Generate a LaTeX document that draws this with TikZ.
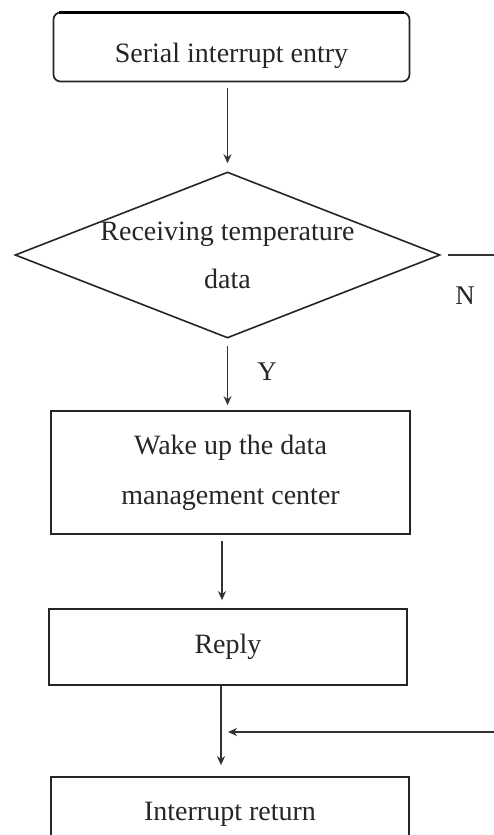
\documentclass[tikz,border=0pt]{standalone}
\usepackage{fontspec}
\setmainfont{Liberation Serif}
\usetikzlibrary{shapes.geometric,arrows.meta,calc}
\begin{document}
\begin{tikzpicture}[x=1pt,y=-1pt,
  box/.style={draw=black!85,line width=1.7pt,rectangle,inner sep=0pt,font=\fontsize{28}{50}\selectfont,align=center,text=black!85},
  decbox/.style={draw=black!85,line width=1.6pt,diamond,inner sep=0pt,minimum width=425pt,minimum height=166pt},
  txt/.style={font=\fontsize{28}{48}\selectfont,align=center,inner sep=0pt,text=black!85},
  lbl/.style={font=\fontsize{27}{30}\selectfont,inner sep=0pt,text=black!85},
  conn/.style={draw=black!80,line width=1.5pt},
  arr/.style={conn,-{Stealth[length=9pt,width=8pt]}}]
\clip (0,0) rectangle (494,835);
\fill[white] (0,0) rectangle (494,835);
% nodes
\node[box,rounded corners=7pt,minimum width=356pt,minimum height=69pt,text height=30pt,text depth=0pt] (top) at (231.5,47) {Serial interrupt entry};
\draw[line width=3pt,black] ([xshift=6pt,yshift=-0.5pt]top.north west) -- ([xshift=-6pt,yshift=-0.5pt]top.north east);
\node[decbox] (dec) at (227.5,255) {};
\node[txt] (dectext) at (dec.center) {Receiving temperature\\data};
\node[box,minimum width=359pt,minimum height=123pt] (wake) at (230.5,472.5) {Wake up the data\\management center};
\node[box,minimum width=358pt,minimum height=76pt] (reply) at (228,647) {Reply};
\node[box,minimum width=358pt,minimum height=74pt] (ret) at (230,814) {Interrupt return};
% free ends
\coordinate (nend) at (494,255);
\coordinate (retin) at (494,732);
\coordinate (vline) at ([xshift=-7pt]reply.south);
% connectors
\draw[arr,shorten <=6pt,shorten >=8pt] (top.south -| dec.north) -- (dec.north);
\draw[arr,shorten <=7pt,shorten >=5pt] (dec.south) -- (dec.south |- wake.north);
\draw[arr,shorten <=6pt,shorten >=8pt] ([xshift=-8.5pt]wake.south) -- ([xshift=-8.5pt]wake.south |- reply.north);
\draw[arr,shorten >=11pt] (vline) -- (vline |- ret.north);
\draw[conn,shorten <=7pt] (dec.east) -- (nend);
\draw[arr,shorten >=7pt] (retin) -- (retin -| vline);
% labels
\node[lbl] (nlab) at (465,296) {N};
\node[lbl] (ylab) at (267,372) {Y};
\end{tikzpicture}
\end{document}
